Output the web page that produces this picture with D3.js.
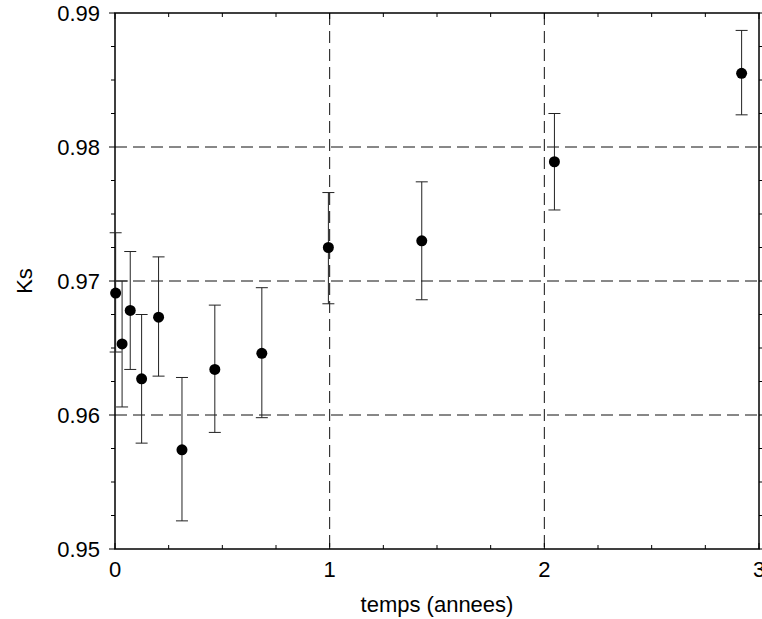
<!DOCTYPE html>
<html>
<head>
<meta charset="utf-8">
<script src="https://cdn.jsdelivr.net/npm/d3@7"></script>
<style>
  html, body { margin: 0; padding: 0; background: #fff; }
  svg { display: block; }
  text { font-family: "Liberation Sans", Arial, Helvetica, sans-serif; fill: #000; }
</style>
</head>
<body>
<svg id="chart" width="762" height="619"></svg>
<script>
// ---- data ----
const years  = [0.003, 0.033, 0.071, 0.124, 0.203, 0.312, 0.465, 0.684, 0.994, 1.429, 2.047, 2.919];
const ks     = [0.9691, 0.9653, 0.9678, 0.9627, 0.9673, 0.9574, 0.9634, 0.9646, 0.9725, 0.9730, 0.9789, 0.9855];
const ksLow  = [0.9647, 0.9606, 0.9634, 0.9579, 0.9629, 0.9521, 0.9587, 0.9598, 0.9683, 0.9686, 0.9753, 0.9824];
const ksHigh = [0.9736, 0.9700, 0.9722, 0.9675, 0.9718, 0.9628, 0.9682, 0.9695, 0.9766, 0.9774, 0.9825, 0.9887];
const xTicks = [0, 1, 2, 3];
const yTicks = [0.95, 0.96, 0.97, 0.98, 0.99];
const xGrid  = [1, 2];
const yGrid  = [0.96, 0.97, 0.98];
const xLabel = "temps (annees)";
const yLabel = "Ks";

// ---- layout ----
const L = 115, R = 759, T = 13, B = 549;
const x = d3.scaleLinear().domain([0, 3]).range([L, R]);
const y = d3.scaleLinear().domain([0.95, 0.99]).range([B, T]);
const svg = d3.select("#chart");

// grid
const g = svg.append("g");
g.selectAll(".hg").data(yGrid).enter().append("line")
  .attr("x1", L).attr("x2", R).attr("y1", d => y(d)).attr("y2", d => y(d))
  .attr("stroke", "#111").attr("stroke-width", 1).attr("stroke-dasharray", "12,6");
g.selectAll(".vg").data(xGrid).enter().append("line")
  .attr("y1", T).attr("y2", B).attr("x1", d => x(d)).attr("x2", d => x(d))
  .attr("stroke", "#111").attr("stroke-width", 1).attr("stroke-dasharray", "12,6");

// ticks
const xMinor = d3.range(0, 3.0001, 0.25);
const yMinor = d3.range(0.95, 0.99001, 0.0025);
const tk = svg.append("g").attr("stroke", "#000").attr("stroke-width", 1);
xMinor.forEach(v => {
  const major = Math.abs(v - Math.round(v)) < 1e-6;
  const len = major ? 6 : 4;
  tk.append("line").attr("x1", x(v)).attr("x2", x(v)).attr("y1", B).attr("y2", B - len);
  tk.append("line").attr("x1", x(v)).attr("x2", x(v)).attr("y1", T).attr("y2", T + len);
});
yMinor.forEach(v => {
  const major = Math.abs(v * 100 - Math.round(v * 100)) < 1e-6;
  const len = major ? 6 : 4;
  tk.append("line").attr("y1", y(v)).attr("y2", y(v)).attr("x1", L).attr("x2", L - len);
  tk.append("line").attr("y1", y(v)).attr("y2", y(v)).attr("x1", R).attr("x2", R + len);
});

// frame
svg.append("rect").attr("x", L).attr("y", T).attr("width", R - L).attr("height", B - T)
  .attr("fill", "none").attr("stroke", "#000").attr("stroke-width", 1.5);

// tick labels
svg.selectAll(".yl").data(yTicks).enter().append("text")
  .attr("x", 100).attr("y", d => y(d)).attr("dy", "0.36em")
  .attr("text-anchor", "end").attr("font-size", 22)
  .text(d => d3.format(".2f")(d));
svg.selectAll(".xl").data(xTicks).enter().append("text")
  .attr("x", d => x(d)).attr("y", 577)
  .attr("text-anchor", "middle").attr("font-size", 22)
  .text(d => d);

// axis titles
svg.append("text").attr("x", (L + R) / 2).attr("y", 612)
  .attr("text-anchor", "middle").attr("font-size", 22).text(xLabel);
svg.append("text").attr("transform", `translate(32, ${(T + B) / 2}) rotate(-90)`)
  .attr("text-anchor", "middle").attr("font-size", 22).text(yLabel);

// error bars
const idx = d3.range(years.length);
const eb = svg.append("g").attr("stroke", "#222").attr("stroke-width", 1);
eb.selectAll(".v").data(idx).enter().append("line")
  .attr("x1", i => x(years[i])).attr("x2", i => x(years[i]))
  .attr("y1", i => y(ksLow[i])).attr("y2", i => y(ksHigh[i]));
eb.selectAll(".ct").data(idx).enter().append("line")
  .attr("x1", i => x(years[i]) - 6).attr("x2", i => x(years[i]) + 6)
  .attr("y1", i => y(ksHigh[i])).attr("y2", i => y(ksHigh[i]));
eb.selectAll(".cb").data(idx).enter().append("line")
  .attr("x1", i => x(years[i]) - 6).attr("x2", i => x(years[i]) + 6)
  .attr("y1", i => y(ksLow[i])).attr("y2", i => y(ksLow[i]));

// points
svg.selectAll(".pt").data(idx).enter().append("circle")
  .attr("cx", i => x(years[i])).attr("cy", i => y(ks[i])).attr("r", 5.5)
  .attr("fill", "#000");
</script>
</body>
</html>
